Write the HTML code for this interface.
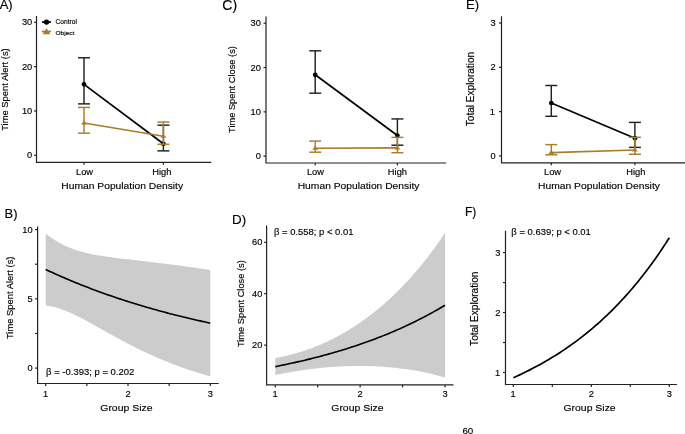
<!DOCTYPE html><html><head><meta charset="utf-8"><style>html,body{margin:0;padding:0;background:#fff;width:685px;height:434px;overflow:hidden}svg{display:block;will-change:transform}svg text{font-family:"Liberation Sans",sans-serif}</style></head><body><svg width="685" height="434" viewBox="0 0 685 434" font-family="Liberation Sans, sans-serif">
<rect width="685" height="434" fill="#fff"/>
<text x="0" y="0" font-size="13.00" text-anchor="start" fill="#000000" transform="translate(-0.37 8.70) scale(1 1.0000)" stroke="#000000" stroke-width="0.15">A)</text>
<text x="0" y="0" font-size="14.00" text-anchor="start" fill="#000000" transform="translate(222.30 9.50) scale(1 1.0000)" stroke="#000000" stroke-width="0.15">C)</text>
<text x="0" y="0" font-size="13.00" text-anchor="start" fill="#000000" transform="translate(465.96 8.76) scale(1 1.0000)" stroke="#000000" stroke-width="0.15">E)</text>
<text x="0" y="0" font-size="13.00" text-anchor="start" fill="#000000" transform="translate(4.47 217.60) scale(1 1.0000)" stroke="#000000" stroke-width="0.15">B)</text>
<text x="0" y="0" font-size="13.40" text-anchor="start" fill="#000000" transform="translate(232.00 223.60) scale(1 1.0000)" stroke="#000000" stroke-width="0.15">D)</text>
<text x="0" y="0" font-size="12.00" text-anchor="start" fill="#000000" transform="translate(465.00 216.00) scale(1 1.0000)" stroke="#000000" stroke-width="0.15">F)</text>
<path d="M36.50,16.00 L36.50,162.30 L211.20,162.30" fill="none" stroke="#222222" stroke-width="1.2" stroke-linejoin="miter"/>
<line x1="34.00" y1="155.30" x2="36.50" y2="155.30" stroke="#222222" stroke-width="1.2" stroke-linecap="butt"/>
<text x="0" y="0" font-size="9.30" text-anchor="start" fill="#000000" transform="translate(27.06 158.36) scale(1 0.9524)" stroke="#000000" stroke-width="0.15">0</text>
<line x1="34.00" y1="110.97" x2="36.50" y2="110.97" stroke="#222222" stroke-width="1.2" stroke-linecap="butt"/>
<text x="0" y="0" font-size="9.30" text-anchor="start" fill="#000000" transform="translate(21.95 114.03) scale(1 0.9524)" stroke="#000000" stroke-width="0.15">10</text>
<line x1="34.00" y1="66.64" x2="36.50" y2="66.64" stroke="#222222" stroke-width="1.2" stroke-linecap="butt"/>
<text x="0" y="0" font-size="9.30" text-anchor="start" fill="#000000" transform="translate(21.95 69.70) scale(1 0.9524)" stroke="#000000" stroke-width="0.15">20</text>
<line x1="34.00" y1="22.31" x2="36.50" y2="22.31" stroke="#222222" stroke-width="1.2" stroke-linecap="butt"/>
<text x="0" y="0" font-size="9.30" text-anchor="start" fill="#000000" transform="translate(21.95 25.37) scale(1 0.9524)" stroke="#000000" stroke-width="0.15">30</text>
<line x1="84.00" y1="162.30" x2="84.00" y2="164.80" stroke="#222222" stroke-width="1.2" stroke-linecap="butt"/>
<text x="0" y="0" font-size="9.30" text-anchor="start" fill="#000000" transform="translate(75.97 174.80) scale(1 0.9524)" stroke="#000000" stroke-width="0.15">Low</text>
<line x1="163.40" y1="162.30" x2="163.40" y2="164.80" stroke="#222222" stroke-width="1.2" stroke-linecap="butt"/>
<text x="0" y="0" font-size="9.30" text-anchor="start" fill="#000000" transform="translate(152.22 174.80) scale(1 0.9524)" stroke="#000000" stroke-width="0.15">High</text>
<text x="0" y="0" font-size="10.30" text-anchor="start" fill="#000000" transform="translate(61.28 189.00) scale(1 0.9524)" stroke="#000000" stroke-width="0.15">Human Population Density</text>
<text x="0" y="0" font-size="9.38" text-anchor="start" fill="#000000" transform="translate(8.40 130.78) scale(1.0500 1) rotate(-90)" stroke="#000000" stroke-width="0.15">Time Spent Alert (s)</text>
<line x1="84.00" y1="57.77" x2="84.00" y2="103.88" stroke="#222222" stroke-width="1.45" stroke-linecap="butt"/>
<line x1="78.00" y1="57.77" x2="90.00" y2="57.77" stroke="#222222" stroke-width="1.45" stroke-linecap="butt"/>
<line x1="78.00" y1="103.88" x2="90.00" y2="103.88" stroke="#222222" stroke-width="1.45" stroke-linecap="butt"/>
<line x1="163.40" y1="125.16" x2="163.40" y2="150.87" stroke="#222222" stroke-width="1.45" stroke-linecap="butt"/>
<line x1="157.40" y1="125.16" x2="169.40" y2="125.16" stroke="#222222" stroke-width="1.45" stroke-linecap="butt"/>
<line x1="157.40" y1="150.87" x2="169.40" y2="150.87" stroke="#222222" stroke-width="1.45" stroke-linecap="butt"/>
<line x1="84.00" y1="84.37" x2="163.40" y2="143.77" stroke="#000" stroke-width="1.7" stroke-linecap="butt"/>
<circle cx="84.00" cy="84.37" r="2.35" fill="#000"/>
<circle cx="163.40" cy="143.77" r="2.35" fill="#000"/>
<line x1="84.00" y1="107.42" x2="84.00" y2="133.14" stroke="#a87d24" stroke-width="1.45" stroke-linecap="butt"/>
<line x1="78.00" y1="107.42" x2="90.00" y2="107.42" stroke="#a87d24" stroke-width="1.45" stroke-linecap="butt"/>
<line x1="78.00" y1="133.14" x2="90.00" y2="133.14" stroke="#a87d24" stroke-width="1.45" stroke-linecap="butt"/>
<line x1="163.40" y1="122.05" x2="163.40" y2="144.22" stroke="#a87d24" stroke-width="1.45" stroke-linecap="butt"/>
<line x1="157.40" y1="122.05" x2="169.40" y2="122.05" stroke="#a87d24" stroke-width="1.45" stroke-linecap="butt"/>
<line x1="157.40" y1="144.22" x2="169.40" y2="144.22" stroke="#a87d24" stroke-width="1.45" stroke-linecap="butt"/>
<line x1="84.00" y1="122.94" x2="163.40" y2="136.24" stroke="#a87d24" stroke-width="1.6" stroke-linecap="butt"/>
<polygon points="81.00,124.46 87.00,124.46 84.00,120.66" fill="#a87d24"/>
<polygon points="160.40,137.76 166.40,137.76 163.40,133.96" fill="#a87d24"/>
<line x1="42.00" y1="22.10" x2="51.00" y2="22.10" stroke="#000" stroke-width="1.7" stroke-linecap="butt"/>
<circle cx="46.50" cy="22.10" r="2.7" fill="#000"/>
<line x1="42.00" y1="31.50" x2="51.00" y2="31.50" stroke="#a87d24" stroke-width="1.7" stroke-linecap="butt"/>
<polygon points="42.6,34.3 50.4,34.3 46.5,28.2" fill="#a87d24"/>
<text x="0" y="0" font-size="6.65" text-anchor="start" fill="#000000" transform="translate(55.47 24.40) scale(1 0.9524)" stroke="#000000" stroke-width="0.15">Control</text>
<text x="0" y="0" font-size="6.55" text-anchor="start" fill="#000000" transform="translate(55.47 34.50) scale(1 0.9524)" stroke="#000000" stroke-width="0.15">Object</text>
<path d="M266.00,16.50 L266.00,163.00 L446.30,163.00" fill="none" stroke="#222222" stroke-width="1.2" stroke-linejoin="miter"/>
<line x1="263.50" y1="156.20" x2="266.00" y2="156.20" stroke="#222222" stroke-width="1.2" stroke-linecap="butt"/>
<text x="0" y="0" font-size="9.30" text-anchor="start" fill="#000000" transform="translate(255.66 159.25) scale(1 0.9524)" stroke="#000000" stroke-width="0.15">0</text>
<line x1="263.50" y1="111.87" x2="266.00" y2="111.87" stroke="#222222" stroke-width="1.2" stroke-linecap="butt"/>
<text x="0" y="0" font-size="9.30" text-anchor="start" fill="#000000" transform="translate(250.55 114.92) scale(1 0.9524)" stroke="#000000" stroke-width="0.15">10</text>
<line x1="263.50" y1="67.54" x2="266.00" y2="67.54" stroke="#222222" stroke-width="1.2" stroke-linecap="butt"/>
<text x="0" y="0" font-size="9.30" text-anchor="start" fill="#000000" transform="translate(250.55 70.59) scale(1 0.9524)" stroke="#000000" stroke-width="0.15">20</text>
<line x1="263.50" y1="23.21" x2="266.00" y2="23.21" stroke="#222222" stroke-width="1.2" stroke-linecap="butt"/>
<text x="0" y="0" font-size="9.30" text-anchor="start" fill="#000000" transform="translate(250.55 26.26) scale(1 0.9524)" stroke="#000000" stroke-width="0.15">30</text>
<line x1="315.20" y1="163.00" x2="315.20" y2="165.50" stroke="#222222" stroke-width="1.2" stroke-linecap="butt"/>
<text x="0" y="0" font-size="9.30" text-anchor="start" fill="#000000" transform="translate(306.92 175.00) scale(1 0.9524)" stroke="#000000" stroke-width="0.15">Low</text>
<line x1="397.40" y1="163.00" x2="397.40" y2="165.50" stroke="#222222" stroke-width="1.2" stroke-linecap="butt"/>
<text x="0" y="0" font-size="9.30" text-anchor="start" fill="#000000" transform="translate(387.87 175.00) scale(1 0.9524)" stroke="#000000" stroke-width="0.15">High</text>
<text x="0" y="0" font-size="10.30" text-anchor="start" fill="#000000" transform="translate(297.68 189.00) scale(1 0.9524)" stroke="#000000" stroke-width="0.15">Human Population Density</text>
<text x="0" y="0" font-size="9.30" text-anchor="start" fill="#000000" transform="translate(235.40 132.94) scale(1.0500 1) rotate(-90)" stroke="#000000" stroke-width="0.15">Time Spent Close (s)</text>
<line x1="315.20" y1="50.80" x2="315.20" y2="93.20" stroke="#222222" stroke-width="1.45" stroke-linecap="butt"/>
<line x1="309.20" y1="50.80" x2="321.20" y2="50.80" stroke="#222222" stroke-width="1.45" stroke-linecap="butt"/>
<line x1="309.20" y1="93.20" x2="321.20" y2="93.20" stroke="#222222" stroke-width="1.45" stroke-linecap="butt"/>
<line x1="397.40" y1="118.90" x2="397.40" y2="145.20" stroke="#222222" stroke-width="1.45" stroke-linecap="butt"/>
<line x1="391.40" y1="118.90" x2="403.40" y2="118.90" stroke="#222222" stroke-width="1.45" stroke-linecap="butt"/>
<line x1="391.40" y1="145.20" x2="403.40" y2="145.20" stroke="#222222" stroke-width="1.45" stroke-linecap="butt"/>
<line x1="315.20" y1="74.80" x2="397.40" y2="135.50" stroke="#000" stroke-width="1.7" stroke-linecap="butt"/>
<circle cx="315.20" cy="74.80" r="2.35" fill="#000"/>
<circle cx="397.40" cy="135.50" r="2.35" fill="#000"/>
<line x1="315.20" y1="141.10" x2="315.20" y2="152.20" stroke="#a87d24" stroke-width="1.45" stroke-linecap="butt"/>
<line x1="309.20" y1="141.10" x2="321.20" y2="141.10" stroke="#a87d24" stroke-width="1.45" stroke-linecap="butt"/>
<line x1="309.20" y1="152.20" x2="321.20" y2="152.20" stroke="#a87d24" stroke-width="1.45" stroke-linecap="butt"/>
<line x1="397.40" y1="137.40" x2="397.40" y2="152.70" stroke="#a87d24" stroke-width="1.45" stroke-linecap="butt"/>
<line x1="391.40" y1="137.40" x2="403.40" y2="137.40" stroke="#a87d24" stroke-width="1.45" stroke-linecap="butt"/>
<line x1="391.40" y1="152.70" x2="403.40" y2="152.70" stroke="#a87d24" stroke-width="1.45" stroke-linecap="butt"/>
<line x1="315.20" y1="148.30" x2="397.40" y2="147.90" stroke="#a87d24" stroke-width="1.6" stroke-linecap="butt"/>
<polygon points="312.20,149.82 318.20,149.82 315.20,146.02" fill="#a87d24"/>
<polygon points="394.40,149.42 400.40,149.42 397.40,145.62" fill="#a87d24"/>
<path d="M501.50,16.20 L501.50,162.80 L686.00,162.80" fill="none" stroke="#222222" stroke-width="1.2" stroke-linejoin="miter"/>
<line x1="499.00" y1="155.90" x2="501.50" y2="155.90" stroke="#222222" stroke-width="1.2" stroke-linecap="butt"/>
<text x="0" y="0" font-size="9.30" text-anchor="start" fill="#000000" transform="translate(490.46 158.96) scale(1 0.9524)" stroke="#000000" stroke-width="0.15">0</text>
<line x1="499.00" y1="111.60" x2="501.50" y2="111.60" stroke="#222222" stroke-width="1.2" stroke-linecap="butt"/>
<text x="0" y="0" font-size="9.30" text-anchor="start" fill="#000000" transform="translate(489.76 114.66) scale(1 0.9524)" stroke="#000000" stroke-width="0.15">1</text>
<line x1="499.00" y1="67.30" x2="501.50" y2="67.30" stroke="#222222" stroke-width="1.2" stroke-linecap="butt"/>
<text x="0" y="0" font-size="9.30" text-anchor="start" fill="#000000" transform="translate(490.56 70.36) scale(1 0.9524)" stroke="#000000" stroke-width="0.15">2</text>
<line x1="499.00" y1="23.00" x2="501.50" y2="23.00" stroke="#222222" stroke-width="1.2" stroke-linecap="butt"/>
<text x="0" y="0" font-size="9.30" text-anchor="start" fill="#000000" transform="translate(490.56 26.06) scale(1 0.9524)" stroke="#000000" stroke-width="0.15">3</text>
<line x1="551.30" y1="162.80" x2="551.30" y2="165.30" stroke="#222222" stroke-width="1.2" stroke-linecap="butt"/>
<text x="0" y="0" font-size="9.30" text-anchor="start" fill="#000000" transform="translate(543.97 175.00) scale(1 0.9524)" stroke="#000000" stroke-width="0.15">Low</text>
<line x1="634.90" y1="162.80" x2="634.90" y2="165.30" stroke="#222222" stroke-width="1.2" stroke-linecap="butt"/>
<text x="0" y="0" font-size="9.30" text-anchor="start" fill="#000000" transform="translate(626.32 175.00) scale(1 0.9524)" stroke="#000000" stroke-width="0.15">High</text>
<text x="0" y="0" font-size="10.30" text-anchor="start" fill="#000000" transform="translate(538.08 189.00) scale(1 0.9524)" stroke="#000000" stroke-width="0.15">Human Population Density</text>
<text x="0" y="0" font-size="10.05" text-anchor="start" fill="#000000" transform="translate(474.30 126.18) scale(1.0500 1) rotate(-90)" stroke="#000000" stroke-width="0.15">Total Exploration</text>
<line x1="551.30" y1="85.50" x2="551.30" y2="116.30" stroke="#222222" stroke-width="1.45" stroke-linecap="butt"/>
<line x1="545.30" y1="85.50" x2="557.30" y2="85.50" stroke="#222222" stroke-width="1.45" stroke-linecap="butt"/>
<line x1="545.30" y1="116.30" x2="557.30" y2="116.30" stroke="#222222" stroke-width="1.45" stroke-linecap="butt"/>
<line x1="634.90" y1="122.40" x2="634.90" y2="147.40" stroke="#222222" stroke-width="1.45" stroke-linecap="butt"/>
<line x1="628.90" y1="122.40" x2="640.90" y2="122.40" stroke="#222222" stroke-width="1.45" stroke-linecap="butt"/>
<line x1="628.90" y1="147.40" x2="640.90" y2="147.40" stroke="#222222" stroke-width="1.45" stroke-linecap="butt"/>
<line x1="551.30" y1="103.00" x2="634.90" y2="138.20" stroke="#000" stroke-width="1.7" stroke-linecap="butt"/>
<circle cx="551.30" cy="103.00" r="2.35" fill="#000"/>
<circle cx="634.90" cy="138.20" r="2.35" fill="#000"/>
<line x1="551.30" y1="144.60" x2="551.30" y2="154.80" stroke="#a87d24" stroke-width="1.45" stroke-linecap="butt"/>
<line x1="545.30" y1="144.60" x2="557.30" y2="144.60" stroke="#a87d24" stroke-width="1.45" stroke-linecap="butt"/>
<line x1="545.30" y1="154.80" x2="557.30" y2="154.80" stroke="#a87d24" stroke-width="1.45" stroke-linecap="butt"/>
<line x1="634.90" y1="137.30" x2="634.90" y2="154.20" stroke="#a87d24" stroke-width="1.45" stroke-linecap="butt"/>
<line x1="628.90" y1="137.30" x2="640.90" y2="137.30" stroke="#a87d24" stroke-width="1.45" stroke-linecap="butt"/>
<line x1="628.90" y1="154.20" x2="640.90" y2="154.20" stroke="#a87d24" stroke-width="1.45" stroke-linecap="butt"/>
<line x1="551.30" y1="152.60" x2="634.90" y2="150.00" stroke="#a87d24" stroke-width="1.6" stroke-linecap="butt"/>
<polygon points="548.30,154.12 554.30,154.12 551.30,150.32" fill="#a87d24"/>
<polygon points="631.90,151.52 637.90,151.52 634.90,147.72" fill="#a87d24"/>
<path d="M45.70,233.60 L47.76,235.21 L49.82,236.73 L51.87,238.18 L53.93,239.56 L55.99,240.86 L58.04,242.09 L60.10,243.25 L62.16,244.34 L64.22,245.36 L66.28,246.32 L68.33,247.22 L70.39,248.06 L72.45,248.85 L74.51,249.58 L76.56,250.27 L78.62,250.91 L80.68,251.52 L82.73,252.08 L84.79,252.61 L86.85,253.10 L88.91,253.57 L90.97,254.01 L93.02,254.42 L95.08,254.81 L97.14,255.18 L99.19,255.54 L101.25,255.87 L103.31,256.19 L105.37,256.50 L107.42,256.80 L109.48,257.08 L111.54,257.36 L113.60,257.63 L115.66,257.89 L117.71,258.14 L119.77,258.39 L121.83,258.64 L123.88,258.88 L125.94,259.12 L128.00,259.36 L130.06,259.60 L132.11,259.83 L134.17,260.06 L136.23,260.30 L138.29,260.53 L140.34,260.77 L142.40,261.00 L144.46,261.24 L146.52,261.47 L148.57,261.71 L150.63,261.95 L152.69,262.19 L154.75,262.44 L156.81,262.69 L158.86,262.93 L160.92,263.18 L162.98,263.44 L165.04,263.69 L167.09,263.95 L169.15,264.21 L171.21,264.48 L173.26,264.74 L175.32,265.01 L177.38,265.29 L179.44,265.56 L181.50,265.84 L183.55,266.12 L185.61,266.40 L187.67,266.69 L189.73,266.98 L191.78,267.27 L193.84,267.56 L195.90,267.86 L197.95,268.16 L200.01,268.46 L202.07,268.77 L204.13,269.08 L206.19,269.39 L208.24,269.70 L210.30,270.02 L210.30,376.31 L208.24,375.74 L206.19,375.16 L204.13,374.57 L202.07,373.96 L200.01,373.34 L197.95,372.71 L195.90,372.07 L193.84,371.42 L191.78,370.75 L189.73,370.08 L187.67,369.39 L185.61,368.68 L183.55,367.97 L181.50,367.24 L179.44,366.50 L177.38,365.75 L175.32,364.98 L173.26,364.20 L171.21,363.41 L169.15,362.61 L167.09,361.79 L165.04,360.95 L162.98,360.11 L160.92,359.25 L158.86,358.38 L156.81,357.49 L154.75,356.59 L152.69,355.68 L150.63,354.75 L148.57,353.81 L146.52,352.86 L144.46,351.90 L142.40,350.92 L140.34,349.92 L138.29,348.92 L136.23,347.90 L134.17,346.87 L132.11,345.83 L130.06,344.77 L128.00,343.71 L125.94,342.63 L123.88,341.54 L121.83,340.45 L119.77,339.34 L117.71,338.22 L115.66,337.10 L113.60,335.96 L111.54,334.82 L109.48,333.68 L107.42,332.53 L105.37,331.37 L103.31,330.22 L101.25,329.06 L99.19,327.90 L97.14,326.74 L95.08,325.59 L93.02,324.44 L90.97,323.30 L88.91,322.17 L86.85,321.06 L84.79,319.95 L82.73,318.86 L80.68,317.80 L78.62,316.75 L76.56,315.73 L74.51,314.74 L72.45,313.78 L70.39,312.85 L68.33,311.96 L66.28,311.11 L64.22,310.31 L62.16,309.55 L60.10,308.84 L58.04,308.18 L55.99,307.57 L53.93,307.02 L51.87,306.52 L49.82,306.08 L47.76,305.70 L45.70,305.38 Z" fill="#cccccc"/>
<path d="M45.70,269.49 L47.76,270.45 L49.82,271.41 L51.87,272.35 L53.93,273.29 L55.99,274.22 L58.04,275.13 L60.10,276.04 L62.16,276.94 L64.22,277.83 L66.28,278.72 L68.33,279.59 L70.39,280.46 L72.45,281.31 L74.51,282.16 L76.56,283.00 L78.62,283.83 L80.68,284.66 L82.73,285.47 L84.79,286.28 L86.85,287.08 L88.91,287.87 L90.97,288.66 L93.02,289.43 L95.08,290.20 L97.14,290.96 L99.19,291.72 L101.25,292.47 L103.31,293.20 L105.37,293.94 L107.42,294.66 L109.48,295.38 L111.54,296.09 L113.60,296.79 L115.66,297.49 L117.71,298.18 L119.77,298.87 L121.83,299.54 L123.88,300.21 L125.94,300.88 L128.00,301.53 L130.06,302.18 L132.11,302.83 L134.17,303.47 L136.23,304.10 L138.29,304.73 L140.34,305.34 L142.40,305.96 L144.46,306.57 L146.52,307.17 L148.57,307.76 L150.63,308.35 L152.69,308.94 L154.75,309.52 L156.81,310.09 L158.86,310.66 L160.92,311.22 L162.98,311.77 L165.04,312.32 L167.09,312.87 L169.15,313.41 L171.21,313.94 L173.26,314.47 L175.32,315.00 L177.38,315.52 L179.44,316.03 L181.50,316.54 L183.55,317.04 L185.61,317.54 L187.67,318.04 L189.73,318.53 L191.78,319.01 L193.84,319.49 L195.90,319.97 L197.95,320.44 L200.01,320.90 L202.07,321.37 L204.13,321.82 L206.19,322.27 L208.24,322.72 L210.30,323.17" fill="none" stroke="#000" stroke-width="1.6"/>
<path d="M37.60,226.50 L37.60,383.50 L218.70,383.50" fill="none" stroke="#222222" stroke-width="1.2" stroke-linejoin="miter"/>
<line x1="35.10" y1="368.10" x2="37.60" y2="368.10" stroke="#222222" stroke-width="1.2" stroke-linecap="butt"/>
<text x="0" y="0" font-size="9.30" text-anchor="start" fill="#000000" transform="translate(27.46 371.16) scale(1 0.9524)" stroke="#000000" stroke-width="0.15">0</text>
<line x1="35.10" y1="333.48" x2="37.60" y2="333.48" stroke="#222222" stroke-width="1.2" stroke-linecap="butt"/>
<line x1="35.10" y1="298.85" x2="37.60" y2="298.85" stroke="#222222" stroke-width="1.2" stroke-linecap="butt"/>
<text x="0" y="0" font-size="9.30" text-anchor="start" fill="#000000" transform="translate(27.56 301.91) scale(1 0.9524)" stroke="#000000" stroke-width="0.15">5</text>
<line x1="35.10" y1="264.23" x2="37.60" y2="264.23" stroke="#222222" stroke-width="1.2" stroke-linecap="butt"/>
<line x1="35.10" y1="229.60" x2="37.60" y2="229.60" stroke="#222222" stroke-width="1.2" stroke-linecap="butt"/>
<text x="0" y="0" font-size="9.30" text-anchor="start" fill="#000000" transform="translate(22.35 232.66) scale(1 0.9524)" stroke="#000000" stroke-width="0.15">10</text>
<line x1="45.70" y1="383.50" x2="45.70" y2="386.00" stroke="#222222" stroke-width="1.2" stroke-linecap="butt"/>
<text x="0" y="0" font-size="9.30" text-anchor="start" fill="#000000" transform="translate(42.96 397.20) scale(1 0.9524)" stroke="#000000" stroke-width="0.15">1</text>
<line x1="86.85" y1="383.50" x2="86.85" y2="386.00" stroke="#222222" stroke-width="1.2" stroke-linecap="butt"/>
<line x1="128.00" y1="383.50" x2="128.00" y2="386.00" stroke="#222222" stroke-width="1.2" stroke-linecap="butt"/>
<text x="0" y="0" font-size="9.30" text-anchor="start" fill="#000000" transform="translate(125.40 397.20) scale(1 0.9524)" stroke="#000000" stroke-width="0.15">2</text>
<line x1="169.15" y1="383.50" x2="169.15" y2="386.00" stroke="#222222" stroke-width="1.2" stroke-linecap="butt"/>
<line x1="210.30" y1="383.50" x2="210.30" y2="386.00" stroke="#222222" stroke-width="1.2" stroke-linecap="butt"/>
<text x="0" y="0" font-size="9.30" text-anchor="start" fill="#000000" transform="translate(207.74 397.20) scale(1 0.9524)" stroke="#000000" stroke-width="0.15">3</text>
<text x="0" y="0" font-size="10.45" text-anchor="start" fill="#000000" transform="translate(100.28 410.70) scale(1 0.9524)" stroke="#000000" stroke-width="0.15">Group Size</text>
<text x="0" y="0" font-size="9.38" text-anchor="start" fill="#000000" transform="translate(12.60 339.03) scale(1.0500 1) rotate(-90)" stroke="#000000" stroke-width="0.15">Time Spent Alert (s)</text>
<text x="0" y="0" font-size="9.50" text-anchor="start" fill="#000000" transform="translate(46.04 374.80) scale(1 0.9524)" stroke="#000000" stroke-width="0.15">β = -0.393; p = 0.202</text>
<path d="M275.30,358.20 L277.42,357.78 L279.54,357.33 L281.66,356.87 L283.79,356.40 L285.91,355.90 L288.03,355.39 L290.15,354.85 L292.27,354.30 L294.39,353.72 L296.51,353.12 L298.63,352.50 L300.75,351.85 L302.88,351.18 L305.00,350.48 L307.12,349.75 L309.24,349.00 L311.36,348.23 L313.48,347.43 L315.60,346.60 L317.73,345.74 L319.85,344.85 L321.97,343.94 L324.09,343.00 L326.21,342.03 L328.33,341.03 L330.45,340.00 L332.57,338.95 L334.69,337.86 L336.82,336.75 L338.94,335.61 L341.06,334.43 L343.18,333.23 L345.30,332.00 L347.42,330.74 L349.54,329.45 L351.66,328.13 L353.79,326.77 L355.91,325.39 L358.03,323.98 L360.15,322.53 L362.27,321.05 L364.39,319.54 L366.51,317.99 L368.63,316.42 L370.76,314.81 L372.88,313.16 L375.00,311.48 L377.12,309.77 L379.24,308.02 L381.36,306.23 L383.48,304.41 L385.61,302.55 L387.73,300.66 L389.85,298.72 L391.97,296.75 L394.09,294.74 L396.21,292.69 L398.33,290.59 L400.45,288.46 L402.57,286.29 L404.70,284.07 L406.82,281.81 L408.94,279.50 L411.06,277.16 L413.18,274.76 L415.30,272.32 L417.42,269.84 L419.55,267.30 L421.67,264.72 L423.79,262.09 L425.91,259.41 L428.03,256.68 L430.15,253.90 L432.27,251.06 L434.39,248.18 L436.51,245.23 L438.64,242.24 L440.76,239.18 L442.88,236.07 L445.00,232.91 L445.00,377.61 L442.88,376.97 L440.76,376.36 L438.64,375.76 L436.51,375.19 L434.39,374.64 L432.27,374.11 L430.15,373.60 L428.03,373.11 L425.91,372.64 L423.79,372.19 L421.67,371.76 L419.55,371.34 L417.42,370.95 L415.30,370.57 L413.18,370.21 L411.06,369.87 L408.94,369.54 L406.82,369.23 L404.70,368.94 L402.57,368.66 L400.45,368.40 L398.33,368.15 L396.21,367.92 L394.09,367.70 L391.97,367.50 L389.85,367.31 L387.73,367.13 L385.61,366.97 L383.48,366.82 L381.36,366.69 L379.24,366.57 L377.12,366.46 L375.00,366.36 L372.88,366.28 L370.76,366.20 L368.63,366.15 L366.51,366.10 L364.39,366.06 L362.27,366.04 L360.15,366.03 L358.03,366.03 L355.91,366.04 L353.79,366.06 L351.66,366.10 L349.54,366.14 L347.42,366.20 L345.30,366.27 L343.18,366.35 L341.06,366.45 L338.94,366.55 L336.82,366.67 L334.69,366.79 L332.57,366.93 L330.45,367.08 L328.33,367.25 L326.21,367.42 L324.09,367.61 L321.97,367.81 L319.85,368.02 L317.73,368.25 L315.60,368.48 L313.48,368.73 L311.36,368.99 L309.24,369.27 L307.12,369.55 L305.00,369.85 L302.88,370.16 L300.75,370.48 L298.63,370.81 L296.51,371.15 L294.39,371.51 L292.27,371.87 L290.15,372.24 L288.03,372.61 L285.91,373.00 L283.79,373.39 L281.66,373.79 L279.54,374.20 L277.42,374.61 L275.30,375.02 Z" fill="#cccccc"/>
<path d="M275.30,366.61 L277.42,366.19 L279.54,365.77 L281.66,365.33 L283.79,364.90 L285.91,364.45 L288.03,364.00 L290.15,363.54 L292.27,363.08 L294.39,362.61 L296.51,362.14 L298.63,361.65 L300.75,361.16 L302.88,360.67 L305.00,360.16 L307.12,359.65 L309.24,359.14 L311.36,358.61 L313.48,358.08 L315.60,357.54 L317.73,356.99 L319.85,356.44 L321.97,355.87 L324.09,355.30 L326.21,354.73 L328.33,354.14 L330.45,353.54 L332.57,352.94 L334.69,352.33 L336.82,351.71 L338.94,351.08 L341.06,350.44 L343.18,349.79 L345.30,349.14 L347.42,348.47 L349.54,347.80 L351.66,347.11 L353.79,346.42 L355.91,345.72 L358.03,345.00 L360.15,344.28 L362.27,343.54 L364.39,342.80 L366.51,342.05 L368.63,341.28 L370.76,340.51 L372.88,339.72 L375.00,338.92 L377.12,338.11 L379.24,337.29 L381.36,336.46 L383.48,335.62 L385.61,334.76 L387.73,333.90 L389.85,333.02 L391.97,332.12 L394.09,331.22 L396.21,330.30 L398.33,329.37 L400.45,328.43 L402.57,327.47 L404.70,326.50 L406.82,325.52 L408.94,324.52 L411.06,323.51 L413.18,322.49 L415.30,321.45 L417.42,320.39 L419.55,319.32 L421.67,318.24 L423.79,317.14 L425.91,316.03 L428.03,314.89 L430.15,313.75 L432.27,312.59 L434.39,311.41 L436.51,310.21 L438.64,309.00 L440.76,307.77 L442.88,306.52 L445.00,305.26" fill="none" stroke="#000" stroke-width="1.6"/>
<path d="M266.60,225.40 L266.60,384.90 L453.50,384.90" fill="none" stroke="#222222" stroke-width="1.2" stroke-linejoin="miter"/>
<line x1="264.10" y1="345.10" x2="266.60" y2="345.10" stroke="#222222" stroke-width="1.2" stroke-linecap="butt"/>
<text x="0" y="0" font-size="9.30" text-anchor="start" fill="#000000" transform="translate(252.05 348.16) scale(1 0.9524)" stroke="#000000" stroke-width="0.15">20</text>
<line x1="264.10" y1="293.70" x2="266.60" y2="293.70" stroke="#222222" stroke-width="1.2" stroke-linecap="butt"/>
<text x="0" y="0" font-size="9.30" text-anchor="start" fill="#000000" transform="translate(252.05 296.75) scale(1 0.9524)" stroke="#000000" stroke-width="0.15">40</text>
<line x1="264.10" y1="242.30" x2="266.60" y2="242.30" stroke="#222222" stroke-width="1.2" stroke-linecap="butt"/>
<text x="0" y="0" font-size="9.30" text-anchor="start" fill="#000000" transform="translate(252.05 245.36) scale(1 0.9524)" stroke="#000000" stroke-width="0.15">60</text>
<line x1="275.30" y1="384.90" x2="275.30" y2="387.40" stroke="#222222" stroke-width="1.2" stroke-linecap="butt"/>
<text x="0" y="0" font-size="9.30" text-anchor="start" fill="#000000" transform="translate(272.56 397.20) scale(1 0.9524)" stroke="#000000" stroke-width="0.15">1</text>
<line x1="317.73" y1="384.90" x2="317.73" y2="387.40" stroke="#222222" stroke-width="1.2" stroke-linecap="butt"/>
<line x1="360.15" y1="384.90" x2="360.15" y2="387.40" stroke="#222222" stroke-width="1.2" stroke-linecap="butt"/>
<text x="0" y="0" font-size="9.30" text-anchor="start" fill="#000000" transform="translate(357.55 397.20) scale(1 0.9524)" stroke="#000000" stroke-width="0.15">2</text>
<line x1="402.57" y1="384.90" x2="402.57" y2="387.40" stroke="#222222" stroke-width="1.2" stroke-linecap="butt"/>
<line x1="445.00" y1="384.90" x2="445.00" y2="387.40" stroke="#222222" stroke-width="1.2" stroke-linecap="butt"/>
<text x="0" y="0" font-size="9.30" text-anchor="start" fill="#000000" transform="translate(442.44 397.20) scale(1 0.9524)" stroke="#000000" stroke-width="0.15">3</text>
<text x="0" y="0" font-size="10.45" text-anchor="start" fill="#000000" transform="translate(331.28 410.70) scale(1 0.9524)" stroke="#000000" stroke-width="0.15">Group Size</text>
<text x="0" y="0" font-size="9.30" text-anchor="start" fill="#000000" transform="translate(243.50 347.04) scale(1.0500 1) rotate(-90)" stroke="#000000" stroke-width="0.15">Time Spent Close (s)</text>
<text x="0" y="0" font-size="9.45" text-anchor="start" fill="#000000" transform="translate(274.04 235.00) scale(1 0.9524)" stroke="#000000" stroke-width="0.15">β = 0.558; p &lt; 0.01</text>
<path d="M513.30,377.78 L515.25,376.90 L517.20,376.01 L519.15,375.11 L521.10,374.19 L523.05,373.26 L525.00,372.31 L526.95,371.35 L528.90,370.37 L530.85,369.38 L532.80,368.37 L534.75,367.34 L536.70,366.30 L538.65,365.24 L540.60,364.17 L542.55,363.08 L544.50,361.97 L546.45,360.84 L548.40,359.69 L550.35,358.53 L552.30,357.34 L554.25,356.14 L556.20,354.92 L558.15,353.68 L560.10,352.42 L562.05,351.14 L564.00,349.84 L565.95,348.52 L567.90,347.17 L569.85,345.81 L571.80,344.42 L573.75,343.01 L575.70,341.58 L577.65,340.13 L579.60,338.65 L581.55,337.15 L583.50,335.63 L585.45,334.08 L587.40,332.50 L589.35,330.90 L591.30,329.28 L593.25,327.63 L595.20,325.95 L597.15,324.25 L599.10,322.51 L601.05,320.76 L603.00,318.97 L604.95,317.15 L606.90,315.31 L608.85,313.43 L610.80,311.53 L612.75,309.59 L614.70,307.63 L616.65,305.63 L618.60,303.60 L620.55,301.54 L622.50,299.44 L624.45,297.32 L626.40,295.15 L628.35,292.96 L630.30,290.72 L632.25,288.46 L634.20,286.15 L636.15,283.81 L638.10,281.43 L640.05,279.02 L642.00,276.56 L643.95,274.07 L645.90,271.53 L647.85,268.96 L649.80,266.34 L651.75,263.68 L653.70,260.98 L655.65,258.24 L657.60,255.45 L659.55,252.62 L661.50,249.74 L663.45,246.82 L665.40,243.85 L667.35,240.83 L669.30,237.76" fill="none" stroke="#000" stroke-width="1.7"/>
<path d="M505.50,230.70 L505.50,384.50 L676.90,384.50" fill="none" stroke="#222222" stroke-width="1.2" stroke-linejoin="miter"/>
<line x1="503.00" y1="372.50" x2="505.50" y2="372.50" stroke="#222222" stroke-width="1.2" stroke-linecap="butt"/>
<text x="0" y="0" font-size="9.30" text-anchor="start" fill="#000000" transform="translate(494.91 375.56) scale(1 0.9524)" stroke="#000000" stroke-width="0.15">1</text>
<line x1="503.00" y1="342.52" x2="505.50" y2="342.52" stroke="#222222" stroke-width="1.2" stroke-linecap="butt"/>
<line x1="503.00" y1="312.55" x2="505.50" y2="312.55" stroke="#222222" stroke-width="1.2" stroke-linecap="butt"/>
<text x="0" y="0" font-size="9.30" text-anchor="start" fill="#000000" transform="translate(495.26 315.61) scale(1 0.9524)" stroke="#000000" stroke-width="0.15">2</text>
<line x1="503.00" y1="282.57" x2="505.50" y2="282.57" stroke="#222222" stroke-width="1.2" stroke-linecap="butt"/>
<line x1="503.00" y1="252.60" x2="505.50" y2="252.60" stroke="#222222" stroke-width="1.2" stroke-linecap="butt"/>
<text x="0" y="0" font-size="9.30" text-anchor="start" fill="#000000" transform="translate(495.26 255.66) scale(1 0.9524)" stroke="#000000" stroke-width="0.15">3</text>
<line x1="513.30" y1="384.50" x2="513.30" y2="387.00" stroke="#222222" stroke-width="1.2" stroke-linecap="butt"/>
<text x="0" y="0" font-size="9.30" text-anchor="start" fill="#000000" transform="translate(510.56 397.20) scale(1 0.9524)" stroke="#000000" stroke-width="0.15">1</text>
<line x1="552.30" y1="384.50" x2="552.30" y2="387.00" stroke="#222222" stroke-width="1.2" stroke-linecap="butt"/>
<line x1="591.30" y1="384.50" x2="591.30" y2="387.00" stroke="#222222" stroke-width="1.2" stroke-linecap="butt"/>
<text x="0" y="0" font-size="9.30" text-anchor="start" fill="#000000" transform="translate(588.70 397.20) scale(1 0.9524)" stroke="#000000" stroke-width="0.15">2</text>
<line x1="630.30" y1="384.50" x2="630.30" y2="387.00" stroke="#222222" stroke-width="1.2" stroke-linecap="butt"/>
<line x1="669.30" y1="384.50" x2="669.30" y2="387.00" stroke="#222222" stroke-width="1.2" stroke-linecap="butt"/>
<text x="0" y="0" font-size="9.30" text-anchor="start" fill="#000000" transform="translate(666.74 397.20) scale(1 0.9524)" stroke="#000000" stroke-width="0.15">3</text>
<text x="0" y="0" font-size="10.45" text-anchor="start" fill="#000000" transform="translate(563.48 410.70) scale(1 0.9524)" stroke="#000000" stroke-width="0.15">Group Size</text>
<text x="0" y="0" font-size="10.05" text-anchor="start" fill="#000000" transform="translate(477.60 345.88) scale(1.0500 1) rotate(-90)" stroke="#000000" stroke-width="0.15">Total Exploration</text>
<text x="0" y="0" font-size="9.45" text-anchor="start" fill="#000000" transform="translate(511.34 235.00) scale(1 0.9524)" stroke="#000000" stroke-width="0.15">β = 0.639; p &lt; 0.01</text>
<text x="0" y="0" font-size="9.80" text-anchor="start" fill="#000000" transform="translate(462.41 433.80) scale(1 1.0000)" stroke="#000000" stroke-width="0.15">60</text>
</svg></body></html>
